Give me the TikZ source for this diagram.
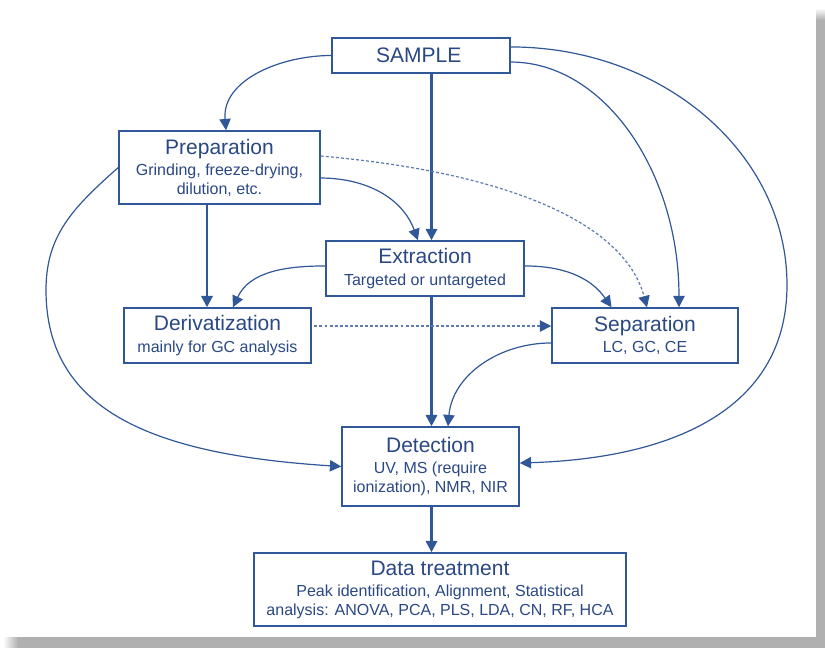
\documentclass[tikz,border=0pt]{standalone}
\usepackage{fontspec}
\setmainfont{Liberation Sans}
\usetikzlibrary{arrows.meta}

\definecolor{flowblue}{RGB}{48,88,152}
\definecolor{textblue}{RGB}{42,72,132}
\definecolor{dotblue}{RGB}{92,122,175}
\definecolor{shadowgray}{RGB}{176,176,176}
\newcommand{\boxtitle}[1]{{\fontsize{15.75}{18}\selectfont #1}}

\begin{document}
\begin{tikzpicture}[x=0.75pt, y=-0.75pt,
	font=\fontsize{12}{14}\selectfont,
	block/.style = { rectangle, draw=flowblue, line width=1.1pt, fill=white,
	text=textblue, align=center, inner sep=0pt },
	link/.style = { draw=flowblue, line width=0.9pt,
	-{Triangle[length=8.5pt, width=8.5pt, color=flowblue]} },
	mainlink/.style = { link, line width=1.7pt },
	dotlink/.style = { link, draw=dotblue, dash pattern=on 2.2pt off 1.6pt } ]

  \useasboundingbox (0,0) rectangle (825,648);

  % drop shadow of the frame
  \fill[shadowgray] (816,20) rectangle (825,648);
  \shade[top color=white, bottom color=shadowgray] (816,8) rectangle (825,20);
  \fill[shadowgray] (18,637) rectangle (816,648);
  \shade[left color=white, right color=shadowgray] (3,637) rectangle (18,648);

  \node [name=sample, block, minimum width=133.5pt, minimum height=26.25pt]
	at (421,55.5) { \boxtitle{SAMPLE} };
  \node [name=prep, block, minimum width=150.75pt, minimum height=54.75pt]
	at (219.5,167.5)
	{ \boxtitle{Preparation}\\[2pt] Grinding, freeze-drying,\\ dilution, etc. };
  \node [name=extract, block, minimum width=148.5pt, minimum height=41.25pt]
	at (425,268.5) { \boxtitle{Extraction}\\[2pt] Targeted or untargeted };
  \node [name=deriv, block, minimum width=140.25pt, minimum height=41.25pt]
	at (217.5,335.5) { \boxtitle{Derivatization}\\[2pt] mainly for GC analysis };
  \node [name=separ, block, minimum width=139.5pt, minimum height=41.25pt]
	at (645,335.5) { \boxtitle{Separation}\\[2pt] LC, GC, CE };
  \node [name=detect, block, minimum width=132.75pt, minimum height=59.25pt]
	at (430.5,466.5)
	{ \boxtitle{Detection}\\[2pt] UV, MS (require\\ ionization), NMR, NIR };
  \node [name=data, block, minimum width=279pt, minimum height=54.75pt]
	at (440,589.5)
	{ \boxtitle{Data treatment}\\[2pt] Peak identification, Alignment, Statistical\\
	analysis: ANOVA, PCA, PLS, LDA, CN, RF, HCA };

  \coordinate (spine) at (431.5,0);
  \coordinate (prepcol) at (207,0);

  % straight main flow
  \draw [mainlink] (spine |- sample.south) -- (spine |- extract.north);
  \draw [mainlink] (spine |- extract.south) -- (spine |- detect.north);
  \draw [mainlink] (spine |- detect.south) -- (spine |- data.north);
  \draw [mainlink] (prepcol |- prep.south) -- (prepcol |- deriv.north);

  % curved links
  \draw [link] (sample.west) to[out=180, in=95] ([xshift=4.9pt]prep.north);
  \draw [link] ([yshift=-7.9pt]prep.east) to[out=0, in=110]
	([xshift=-5.3pt]extract.north);
  \draw [link] ([yshift=1.9pt]extract.west) to[out=180, in=65]
	([xshift=11.6pt]deriv.north);
  \draw [link] ([yshift=1.9pt]extract.east) to[out=0, in=125]
	([xshift=-25.1pt]separ.north);
  \draw [link] ([yshift=-4.9pt]sample.east) .. controls +(93,0) and +(0,-136) ..
	([xshift=25.5pt]separ.north);
  \draw [link] ([yshift=-5.6pt]separ.west) to[out=180, in=85]
	([xshift=13.1pt]detect.north);
  \draw [link] ([yshift=6.4pt]sample.east) .. controls +(153,0) and +(0,-131) ..
	(787,285) .. controls +(0,120) and +(160,-5) .. ([yshift=2.6pt]detect.east);
  \draw [link] (prep.west) .. controls +(-45,40) and +(0,-55) ..
	(46,290) .. controls +(0,120) and +(-190,-12) .. (detect.west);

  % optional links
  \draw [dotlink] ([yshift=8.6pt]prep.east) .. controls +(180,15.7) and +(-23.3,-87) ..
	([xshift=1.5pt]separ.north);
  \draw [dotlink] ([yshift=7.1pt,xshift=2pt]deriv.east) -- ([yshift=7.1pt]separ.west);
\end{tikzpicture}
\end{document}
